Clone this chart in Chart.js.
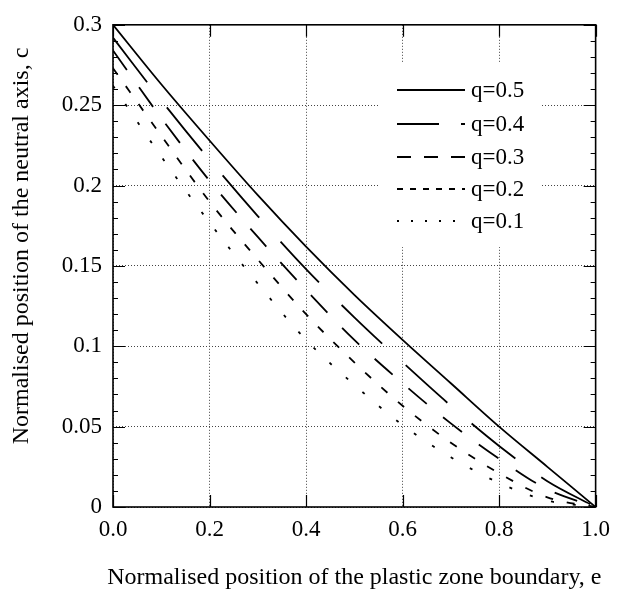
<!DOCTYPE html>
<html><head><meta charset="utf-8">
<script src="https://cdn.jsdelivr.net/npm/chart.js@4/dist/chart.umd.min.js"></script>
<style>html,body{margin:0;padding:0;background:#fff}#wrap{width:619px;height:593px;position:relative}</style>
</head><body><div id="wrap"><canvas id="c"></canvas></div>
<script>
// e values (x) and c values (y) for each q
const eValues = [0.0, 0.1, 0.2, 0.3, 0.4, 0.5, 0.6, 0.7, 0.8, 0.9, 1.0];
const q05 = [0.300, 0.263, 0.228, 0.194, 0.162, 0.132, 0.104, 0.077, 0.050, 0.025, 0.0];
const q04 = [0.292, 0.253, 0.216, 0.181, 0.148, 0.118, 0.090, 0.063, 0.038, 0.016, 0.0];
const q03 = [0.284, 0.242, 0.203, 0.168, 0.135, 0.104, 0.077, 0.052, 0.030, 0.011, 0.0];
const q02 = [0.273, 0.231, 0.190, 0.154, 0.120, 0.090, 0.063, 0.040, 0.021, 0.006, 0.0];
const q01 = [0.262, 0.218, 0.177, 0.139, 0.104, 0.076, 0.051, 0.031, 0.015, 0.004, 0.0];
const seriesLabels = ['q=0.5', 'q=0.4', 'q=0.3', 'q=0.2', 'q=0.1'];
const xTickValues = [0.0, 0.2, 0.4, 0.6, 0.8, 1.0];
const yTickValues = [0, 0.05, 0.1, 0.15, 0.2, 0.25, 0.3];
const xTitle = 'Normalised position of the plastic zone boundary, e';
const yTitle = 'Normalised position of the neutral axis, c';

const seriesData = [q05, q04, q03, q02, q01];
const plotDash = [[], [56, 32], [24, 21], [8, 14], [3, 19]];
const legendDash = [[], [42, 22], [14, 13], [6, 7], [2, 12]];
const FONT = 'Liberation Serif';

const datasets = seriesData.map((arr, i) => ({
  label: seriesLabels[i],
  data: eValues.map((e, j) => ({x: e, y: arr[j]})),
  borderColor: '#000',
  borderWidth: 1.8,
  borderDash: plotDash[i],
  pointRadius: 0,
  fill: false,
  cubicInterpolationMode: 'monotone'
}));

const framePlugin = {
  id: 'frame',
  beforeDatasetsDraw(chart) {
    const ctx = chart.ctx;
    // white legend background (hides grid lines behind the legend)
    ctx.save();
    ctx.fillStyle = '#fff';
    ctx.fillRect(378, 62, 162, 185);
    ctx.restore();
  },
  afterDraw(chart) {
    const ctx = chart.ctx, x = chart.scales.x, y = chart.scales.y;
    const {left, right, top, bottom} = chart.chartArea;
    ctx.save();
    ctx.strokeStyle = '#000';
    ctx.lineWidth = 1.6;
    ctx.setLineDash([]);
    ctx.strokeRect(left, top, right - left, bottom - top);
    ctx.lineWidth = 1.2;
    ctx.beginPath();
    for (let i = 0; i <= 30; i++) {
      const py = Math.round(y.getPixelForValue(i / 100)) + 0.5;
      const len = (i % 5 === 0) ? 12 : 5;
      ctx.moveTo(left, py); ctx.lineTo(left + len, py);
      ctx.moveTo(right, py); ctx.lineTo(right - len, py);
    }
    xTickValues.forEach(v => {
      const px = Math.round(x.getPixelForValue(v)) + 0.5;
      ctx.moveTo(px, bottom); ctx.lineTo(px, bottom - 12);
      ctx.moveTo(px, top); ctx.lineTo(px, top + 12);
    });
    ctx.stroke();

    // legend
    const rows = [90, 124, 157, 189, 221];
    ctx.font = '23px "' + FONT + '"';
    ctx.fillStyle = '#000';
    ctx.textBaseline = 'middle';
    ctx.textAlign = 'left';
    rows.forEach((ry, i) => {
      ctx.beginPath();
      ctx.lineWidth = 1.8;
      ctx.setLineDash(legendDash[i]);
      ctx.moveTo(397, ry); ctx.lineTo(465, ry);
      ctx.stroke();
      ctx.fillText(seriesLabels[i], 471, ry + 1);
    });
    ctx.setLineDash([]);

    // axis titles
    ctx.font = '24px "' + FONT + '"';
    ctx.textAlign = 'center';
    ctx.textBaseline = 'middle';
    ctx.fillText(xTitle, (left + right) / 2, 578);
    ctx.translate(22, 246);
    ctx.rotate(-Math.PI / 2);
    ctx.fillText(yTitle, 0, 0);
    ctx.restore();
  }
};

new Chart(document.getElementById('c'), {
  type: 'line',
  data: {datasets},
  options: {
    responsive: true,
    maintainAspectRatio: false,
    animation: false,
    devicePixelRatio: 1,
    layout: {padding: {top: 20, right: 17, left: 0, bottom: 0}},
    plugins: {legend: {display: false}, tooltip: {enabled: false}},
    scales: {
      x: {
        type: 'linear', min: 0, max: 1,
        afterBuildTicks: s => { s.ticks = xTickValues.map(v => ({value: v})); },
        afterFit: s => { s.height = 86; },
        ticks: {
          callback: v => Number(v).toFixed(1),
          font: {family: FONT, size: 23}, color: '#000',
          padding: 9, maxRotation: 0, autoSkip: false
        },
        grid: {color: '#444', lineWidth: 1, drawTicks: false},
        border: {display: false, dash: [1, 2]}
      },
      y: {
        type: 'linear', min: 0, max: 0.3,
        afterBuildTicks: s => { s.ticks = yTickValues.map(v => ({value: v})); },
        afterFit: s => { s.width = 113; },
        ticks: {
          callback: v => String(Number(Number(v).toFixed(2))),
          font: {family: FONT, size: 23}, color: '#000',
          padding: 11
        },
        grid: {color: '#444', lineWidth: 1, drawTicks: false},
        border: {display: false, dash: [1, 2]}
      }
    }
  },
  plugins: [framePlugin]
});
</script>
</body></html>
